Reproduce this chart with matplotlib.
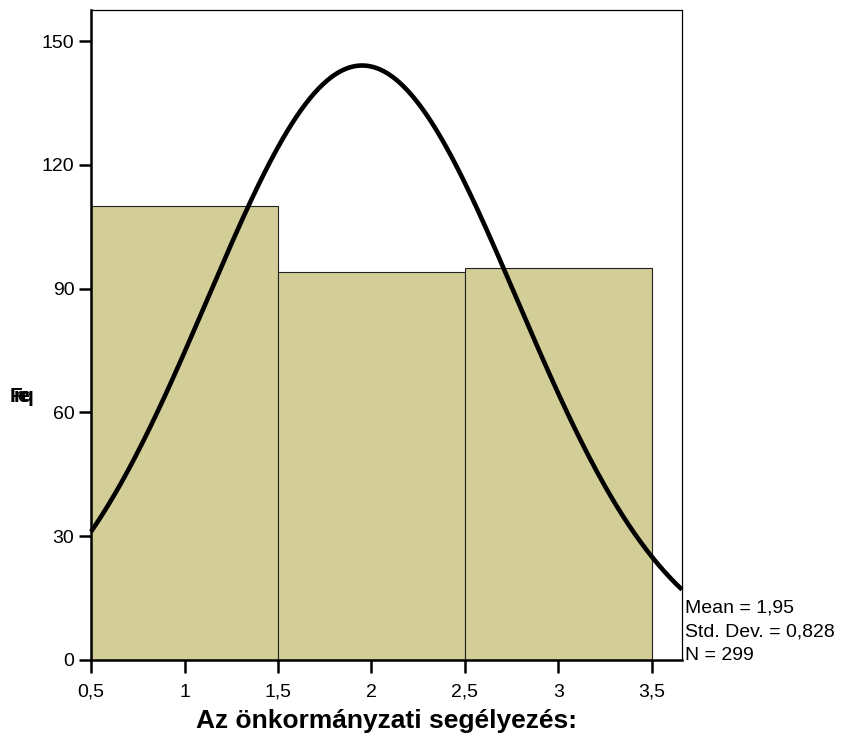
import numpy as np
import matplotlib
matplotlib.use("Agg")
import matplotlib.pyplot as plt

plt.rcParams['font.family'] = ['Liberation Sans', 'DejaVu Sans']

bin_edges = [0.5, 1.5, 2.5, 3.5]
counts = [110, 94, 95]
mean_val = 1.95
std_val = 0.828
n_val = 299
xticks = [0.5, 1, 1.5, 2, 2.5, 3, 3.5]
xtick_labels = ['0,5', '1', '1,5', '2', '2,5', '3', '3,5']
yticks = [0, 30, 60, 90, 120, 150]
xlabel = 'Az önkormányzati segélyezés:'
stats_text = ['Mean = 1,95', 'Std. Dev. = 0,828', 'N = 299']

W, H = 842, 742
fig = plt.figure(figsize=(W/100, H/100), dpi=100)
ax = fig.add_axes([91/W, 1-660/H, (682-91)/W, (660-10)/H])

lefts = bin_edges[:-1]
widths = np.diff(bin_edges)
ax.bar(lefts, counts, width=widths, align='edge', color='#d3cd98',
       edgecolor='#222222', linewidth=0.8)

xmin = 0.5
xmax = 3.5 + 30/187
xs = np.linspace(xmin, xmax, 400)
bw = 1.0
ys = n_val * bw / (std_val*np.sqrt(2*np.pi)) * np.exp(-0.5*((xs-mean_val)/std_val)**2)
ax.plot(xs, ys, color='black', linewidth=3.3, solid_capstyle='butt', clip_on=False)

ax.set_xlim(xmin, xmax)
ymax = 150 + 31/(619/150)
ax.set_ylim(0, ymax)
ax.set_xticks(xticks)
ax.set_xticklabels(xtick_labels)
ax.set_yticks(yticks)
ax.set_yticklabels([str(v) for v in yticks])
ax.tick_params(axis='both', direction='out', length=9, width=1.8, labelsize=14, colors='black')
ax.tick_params(axis='x', pad=8)
ax.tick_params(axis='y', pad=3)
ax.tick_params(top=False, right=False)
for s in ['left', 'bottom']:
    ax.spines[s].set_linewidth(1.8)
for s in ['top', 'right']:
    ax.spines[s].set_linewidth(0.9)
ax.set_xlabel(xlabel, fontsize=19, fontweight='bold', labelpad=6)

for i, t in enumerate(stats_text):
    fig.text(685/W, 1-(608+i*24)/H, t, fontsize=14, va='center', ha='left')

# garbled y-axis label blob (overlapping glyphs, as in the reference)
for i, ch in enumerate('Freq'):
    fig.text((10 + i*3.5)/W, 1-396/H, ch, fontsize=15, fontweight='bold',
             va='center', ha='left')

fig.savefig('out.png', dpi=100)
